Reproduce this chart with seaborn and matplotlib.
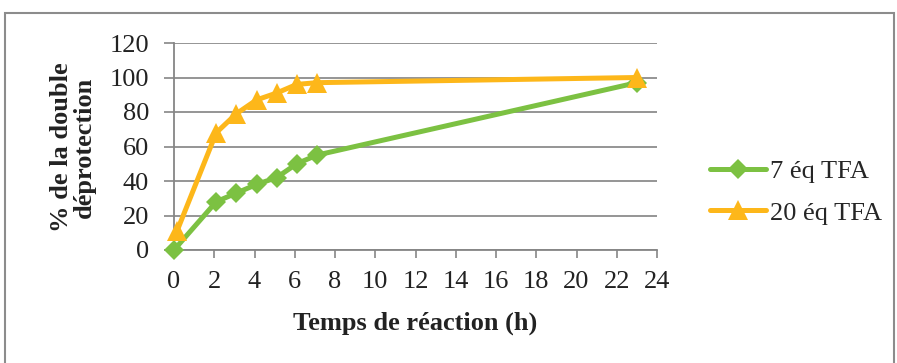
import matplotlib
matplotlib.use("Agg")
import matplotlib.pyplot as plt
import matplotlib.patches as mpatches
import seaborn as sns
import pandas as pd

# Données
temps_7eq = [0, 2.1, 3.1, 4.1, 5.1, 6.1, 7.1, 23]
deprot_7eq = [0, 28, 33, 38, 42, 50, 55, 97]
temps_20eq = [0.15, 2.1, 3.1, 4.1, 5.1, 6.1, 7.1, 23]
deprot_20eq = [11, 68, 79, 87, 91, 96, 97, 100]
series = ["7 éq TFA", "20 éq TFA"]
x_ticks = list(range(0, 25, 2))
y_ticks = list(range(0, 121, 20))

df = pd.concat([
    pd.DataFrame({"Temps": temps_7eq, "Deprot": deprot_7eq, "Serie": series[0]}),
    pd.DataFrame({"Temps": temps_20eq, "Deprot": deprot_20eq, "Serie": series[1]}),
])

sns.set_theme(style="white")
plt.rcParams['font.family'] = ['Liberation Serif', 'DejaVu Serif']

couleurs = {series[0]: "#7cc142", series[1]: "#fdb71a"}
marqueurs = {series[0]: "D", series[1]: "^"}
taille = {series[0]: 10.5, series[1]: 14}

fig = plt.figure(figsize=(8.97, 3.63), dpi=100)
ax = fig.add_axes([174 / 897, 1 - 250 / 363, (657 - 174) / 897, (250 - 43) / 363])

for s in series:
    sub = df[df["Serie"] == s]
    sns.lineplot(data=sub, x="Temps", y="Deprot", ax=ax, color=couleurs[s],
                 marker=marqueurs[s], markersize=taille[s], markeredgewidth=0,
                 linewidth=3.6, label=s, sort=False, clip_on=False, zorder=3)

ax.set_xlim(0, 24)
ax.set_ylim(0, 120)
ax.set_xticks(x_ticks)
ax.set_yticks(y_ticks)
ax.tick_params(axis="both", labelsize=19, colors="#222222", width=1.2, direction="out")
ax.tick_params(axis="x", color="#868686", length=6, pad=9)
ax.tick_params(axis="y", color="#868686", length=7, pad=11)
ax.xaxis.set_ticks_position("bottom")
ax.yaxis.set_ticks_position("left")
ax.grid(axis="y", color="#8c8c8c", linewidth=1.3)
ax.set_axisbelow(True)
for side in ["top", "right"]:
    ax.spines[side].set_visible(False)
for side in ["left", "bottom"]:
    ax.spines[side].set_color("#868686")
    ax.spines[side].set_linewidth(1.3)

ax.set_xlabel("")
ax.set_ylabel("")
fig.text(415 / 897, 1 - 323 / 363, "Temps de réaction (h)", fontsize=19,
         fontweight="bold", ha="center", va="center", color="#222222")
fig.text(73 / 897, 1 - 147 / 363, "% de la double\ndéprotection", fontsize=19,
         fontweight="bold", ha="center", va="center", rotation=90,
         multialignment="center", linespacing=0.95, color="#222222")

handles, labels = ax.get_legend_handles_labels()
ax.legend(handles, labels, loc="center left", bbox_to_anchor=(697 / 897, 1 - 192 / 363),
          bbox_transform=fig.transFigure, frameon=False, fontsize=19,
          handlelength=2.1, handletextpad=0.15, labelspacing=0.7, borderpad=0)

# cadre gris autour du graphique
fig.patches.append(mpatches.Rectangle((5 / 897, -0.1), 889 / 897, 1 - 13 / 363 + 0.1,
                                      transform=fig.transFigure, fill=False,
                                      edgecolor="#8c8c8c", linewidth=1.5))

fig.savefig("out.png", dpi=100)
